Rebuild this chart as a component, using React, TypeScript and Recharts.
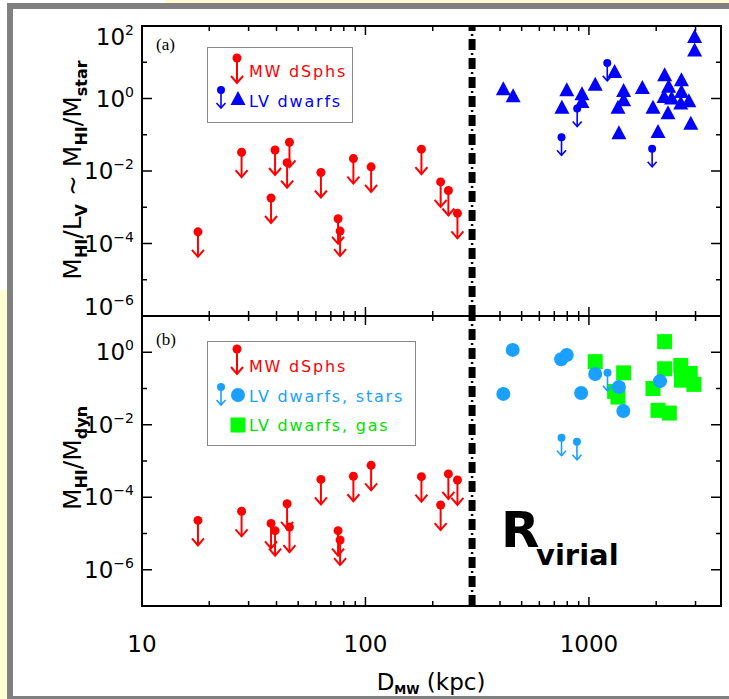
import React from "react";
import { ScatterChart, Scatter, XAxis, YAxis, ReferenceLine, ReferenceArea } from "recharts";

// axis ticks
const xTicks = [10, 20, 30, 40, 50, 60, 70, 80, 90, 100, 200, 300, 400, 500, 600, 700, 800, 900, 1000, 2000, 3000];
const xLabels = [10, 100, 1000];
const yTicksA = [1e-6, 1e-5, 1e-4, 1e-3, 1e-2, 1e-1, 1, 10, 100];
const yTicksB = [1e-7, 1e-6, 1e-5, 1e-4, 1e-3, 1e-2, 1e-1, 1, 10];
const rVirial = 300;

// MW dSphs (upper limits), distance in kpc
const mwDist = [17.8, 27.9, 37.8, 39.4, 44.6, 45.7, 63.2, 75.4, 77, 88.3, 106, 178, 217, 235, 258];
const mwStarRatio = [2.1e-4, 3.3e-2, 1.8e-3, 3.8e-2, 1.7e-2, 6.2e-2, 9.1e-3, 4.8e-4, 2.2e-4, 2.2e-2, 1.3e-2, 4.0e-2, 5.0e-3, 2.9e-3, 6.8e-4];
const mwDynRatio = [2.3e-5, 4.1e-5, 1.9e-5, 1.2e-5, 6.6e-5, 1.5e-5, 3.1e-4, 1.2e-5, 6.6e-6, 3.8e-4, 7.6e-4, 3.7e-4, 6.1e-5, 4.4e-4, 3.0e-4];

// LV dwarfs, panel (a)
const lvDist = [414, 458, 757, 796, 931, 931, 1067, 1303, 1349, 1362, 1430, 1430, 1734, 1935, 2038, 2182, 2168, 2274, 2259, 2345, 2594, 2594, 2576, 2800, 2857, 2972, 2972];
const lvStarRatio = [1.8, 1.16, 0.56, 1.7, 1.3, 0.8, 2.4, 5.4, 0.56, 0.11, 1.6, 0.9, 1.96, 0.56, 0.12, 4.4, 1.1, 2.1, 0.39, 1.0, 3.2, 1.5, 0.73, 0.84, 0.2, 50, 21];
const lvLimDistA = [754, 886, 1208, 1918];
const lvLimRatioA = [0.085, 0.53, 9.6, 0.041];

// LV dwarfs, panel (b)
const starDist = [414, 456, 751, 796, 923, 1067, 1362, 1425, 2081];
const starDyn = [0.071, 1.16, 0.64, 0.84, 0.075, 0.25, 0.11, 0.024, 0.16];
const starLimDist = [754, 884, 1211];
const starLimDyn = [4.4e-3, 3.4e-3, 0.27];
const gasDist = [1067, 1430, 1303, 1349, 1935, 2182, 2182, 2038, 2290, 2576, 2840, 2594, 2950];
const gasDyn = [0.55, 0.27, 0.083, 0.058, 0.1, 1.96, 0.35, 0.025, 0.021, 0.43, 0.26, 0.17, 0.13];

const zip = (d: number[], v: number[]) => d.map((x, i) => ({ d: x, v: v[i] }));

const RED = "#ff0000";
const BLUE = "#0000ff";
const LBLUE = "#1aa0ff";
const GREEN = "#00ff00";
const FONT = "'DejaVu Sans', sans-serif";

const LEFT = 142;
const RIGHT = 721;
const TOP_A = 26;
const MID = 316;
const BOT_B = 606;

const sup = (e: number) => (e < 0 ? "\u2212" + Math.abs(e) : String(e));

function Limit({ cx, cy, color, big }: any) {
  const r = big ? 4.5 : 4;
  const len = big ? 25 : 18;
  const hw = big ? 6 : 4.5;
  const hh = big ? 7 : 5;
  const sw = big ? 2 : 1.6;
  return (
    <g>
      <circle cx={cx} cy={cy} r={r} fill={color} />
      <line x1={cx} y1={cy} x2={cx} y2={cy + len} stroke={color} strokeWidth={sw} />
      <polyline points={`${cx - hw},${cy + len - hh} ${cx},${cy + len} ${cx + hw},${cy + len - hh}`} fill="none" stroke={color} strokeWidth={sw} />
    </g>
  );
}

const Tri = ({ cx, cy }: any) => (
  <polygon points={`${cx},${cy - 8} ${cx - 7.5},${cy + 6} ${cx + 7.5},${cy + 6}`} fill={BLUE} />
);
const Dot = ({ cx, cy }: any) => <circle cx={cx} cy={cy} r={7} fill={LBLUE} />;
const Sq = ({ cx, cy }: any) => <rect x={cx - 7.5} y={cy - 7.5} width={15} height={15} fill={GREEN} />;

const makeXTick = (top: number, bottom: number, labels: boolean) => (p: any) => {
  const v = p.payload.value;
  const x = p.x;
  const major = xLabels.includes(v);
  const len = major ? 9 : 5;
  return (
    <g>
      <line x1={x} x2={x} y1={bottom} y2={bottom - len} stroke="#000" strokeWidth={1.5} />
      <line x1={x} x2={x} y1={top} y2={top + len} stroke="#000" strokeWidth={1.5} />
      {labels && major && (
        <text x={x} y={652} textAnchor="middle" fontSize={23} fontFamily={FONT} fill="#000">
          {v}
        </text>
      )}
    </g>
  );
};

const makeYTick = (shift: Record<number, number>) => (p: any) => {
  const v = p.payload.value;
  const y = p.y;
  const e = Math.round(Math.log10(v));
  const major = e % 2 === 0;
  const len = major ? 10 : 5;
  const dy = shift[e] || 0;
  return (
    <g>
      <line x1={LEFT} x2={LEFT + len} y1={y} y2={y} stroke="#000" strokeWidth={1.5} />
      <line x1={RIGHT} x2={RIGHT - len} y1={y} y2={y} stroke="#000" strokeWidth={1.5} />
      {major && (
        <text x={134} y={y + 8 + dy} textAnchor="end" fontSize={23} fontFamily={FONT} fill="#000">
          10
          <tspan dy={-10} fontSize={14}>{sup(e)}</tspan>
        </text>
      )}
    </g>
  );
};

const virialLines = (
  <>
    <ReferenceLine x={rVirial} stroke="#000" strokeWidth={7} strokeDasharray="11 8" />
    <ReferenceLine x={rVirial} stroke="#000" strokeWidth={2.5} strokeDasharray="2 17" strokeDashoffset={5} />
  </>
);

function Legend() {
  const t = { fontFamily: FONT, fontSize: 16, letterSpacing: 1.8 } as const;
  return (
    <svg width={729} height={699} style={{ position: "absolute", left: 0, top: 0, pointerEvents: "none" }}>
      {/* panel labels */}
      <text x={156} y={50} fontFamily="'Liberation Serif', serif" fontSize={17}>(a)</text>
      <text x={156} y={345} fontFamily="'Liberation Serif', serif" fontSize={17}>(b)</text>

      {/* legend (a) */}
      <rect x={207.5} y={47.5} width={145} height={75} fill="#fff" stroke="#888" strokeWidth={1} />
      <Limit cx={237} cy={58} color={RED} big />
      <text x={249} y={77} fill={RED} {...t}>MW dSphs</text>
      <Limit cx={221} cy={90} color={BLUE} />
      <Tri cx={238} cy={99} />
      <text x={249} y={107} fill={BLUE} {...t}>LV dwarfs</text>

      {/* legend (b) */}
      <rect x={207.5} y={341.5} width={208} height={104} fill="#fff" stroke="#888" strokeWidth={1} />
      <Limit cx={237} cy={349} color={RED} big />
      <text x={249} y={372} fill={RED} {...t}>MW dSphs</text>
      <Limit cx={221} cy={387} color={LBLUE} />
      <Dot cx={238} cy={395} />
      <text x={249} y={402} fill={LBLUE} {...t}>LV dwarfs, stars</text>
      <Sq cx={238} cy={425} />
      <text x={249} y={431} fill="#00e000" {...t}>LV dwarfs, gas</text>

      {/* axis titles */}
      <text transform="rotate(-90 81 170)" x={81} y={170} textAnchor="middle" fontFamily={FONT} fontSize={25}>
        M<tspan dy={6} fontSize={16} fontWeight="bold">HI</tspan>
        <tspan dy={-6}>/L</tspan>
        <tspan dy={6} fontSize={16} fontWeight="bold">V</tspan>
        <tspan dy={-6}> ~ M</tspan>
        <tspan dy={6} fontSize={16} fontWeight="bold">HI</tspan>
        <tspan dy={-6}>/M</tspan>
        <tspan dy={6} fontSize={16} fontWeight="bold">star</tspan>
      </text>
      <text transform="rotate(-90 81 458)" x={81} y={458} textAnchor="middle" fontFamily={FONT} fontSize={25}>
        M<tspan dy={6} fontSize={16} fontWeight="bold">HI</tspan>
        <tspan dy={-6}>/M</tspan>
        <tspan dy={6} fontSize={16} fontWeight="bold">dyn</tspan>
      </text>
      <text x={431} y={690} textAnchor="middle" fontFamily={FONT} fontSize={23}>
        D<tspan dy={4} fontSize={12} fontWeight="bold">MW</tspan>
        <tspan dy={-4}> (kpc)</tspan>
      </text>

      {/* R_virial */}
      <text x={501} y={547} fontFamily={FONT} fontSize={50} fontWeight="bold">R</text>
      <text x={536} y={565} fontFamily={FONT} fontSize={29} fontWeight="bold">virial</text>
    </svg>
  );
}

export default function App() {
  const xCommon = {
    dataKey: "d",
    type: "number" as const,
    scale: "log" as const,
    domain: [10, 3900],
    allowDataOverflow: true,
    ticks: xTicks,
    interval: 0,
    axisLine: false,
    tickLine: false,
  };
  return (
    <div style={{ position: "absolute", left: 0, top: 0, width: 729, height: 699, background: "#fff", overflow: "hidden" }}>
      {/* background window bits */}
      <div style={{ position: "absolute", left: 165, top: 0, width: 564, height: 4, background: "#fdfbcf" }} />
      <div style={{ position: "absolute", left: 0, top: 290, width: 7, height: 409, background: "#ffffd2" }} />
      <div
        style={{
          position: "absolute",
          left: 7,
          top: 3,
          width: 740,
          height: 705,
          background: "#fff",
          borderLeft: "6px solid #808080",
          borderTop: "6px solid #808080",
          boxSizing: "border-box",
        }}
      />

      <div style={{ position: "absolute", left: 0, top: 0 }}>
        <ScatterChart width={729} height={330} margin={{ top: TOP_A, right: 729 - RIGHT, bottom: 0, left: 0 }}>
          <XAxis {...xCommon} height={330 - MID} tick={makeXTick(TOP_A, MID, false)} />
          <YAxis
            dataKey="v"
            type="number"
            scale="log"
            domain={[1e-6, 100]}
            allowDataOverflow
            ticks={yTicksA}
            interval={0}
            width={LEFT}
            axisLine={false}
            tickLine={false}
            tick={makeYTick({ 2: 11, [-6]: -9 })}
          />
          <ReferenceArea x1={10} x2={3900} y1={1e-6} y2={100} fill="none" fillOpacity={0} stroke="#000" strokeWidth={2} />
          {virialLines}
          <Scatter data={zip(mwDist, mwStarRatio)} isAnimationActive={false} shape={(p: any) => <Limit cx={p.cx} cy={p.cy} color={RED} big />} />
          <Scatter data={zip(lvDist, lvStarRatio)} isAnimationActive={false} shape={(p: any) => <Tri cx={p.cx} cy={p.cy} />} />
          <Scatter data={zip(lvLimDistA, lvLimRatioA)} isAnimationActive={false} shape={(p: any) => <Limit cx={p.cx} cy={p.cy} color={BLUE} />} />
        </ScatterChart>
      </div>

      <div style={{ position: "absolute", left: 0, top: 0 }}>
        <ScatterChart width={729} height={699} margin={{ top: MID, right: 729 - RIGHT, bottom: 0, left: 0 }}>
          <XAxis {...xCommon} height={699 - BOT_B} tick={makeXTick(MID, BOT_B, true)} />
          <YAxis
            dataKey="v"
            type="number"
            scale="log"
            domain={[1e-7, 10]}
            allowDataOverflow
            ticks={yTicksB}
            interval={0}
            width={LEFT}
            axisLine={false}
            tickLine={false}
            tick={makeYTick({})}
          />
          <ReferenceArea x1={10} x2={3900} y1={1e-7} y2={10} fill="none" fillOpacity={0} stroke="#000" strokeWidth={2} />
          {virialLines}
          <Scatter data={zip(mwDist, mwDynRatio)} isAnimationActive={false} shape={(p: any) => <Limit cx={p.cx} cy={p.cy} color={RED} big />} />
          <Scatter data={zip(gasDist, gasDyn)} isAnimationActive={false} shape={(p: any) => <Sq cx={p.cx} cy={p.cy} />} />
          <Scatter data={zip(starDist, starDyn)} isAnimationActive={false} shape={(p: any) => <Dot cx={p.cx} cy={p.cy} />} />
          <Scatter data={zip(starLimDist, starLimDyn)} isAnimationActive={false} shape={(p: any) => <Limit cx={p.cx} cy={p.cy} color={LBLUE} />} />
        </ScatterChart>
      </div>

      <Legend />
      <div style={{ position: "absolute", left: 7, top: 696, width: 722, height: 6, background: "#808080" }} />
    </div>
  );
}
